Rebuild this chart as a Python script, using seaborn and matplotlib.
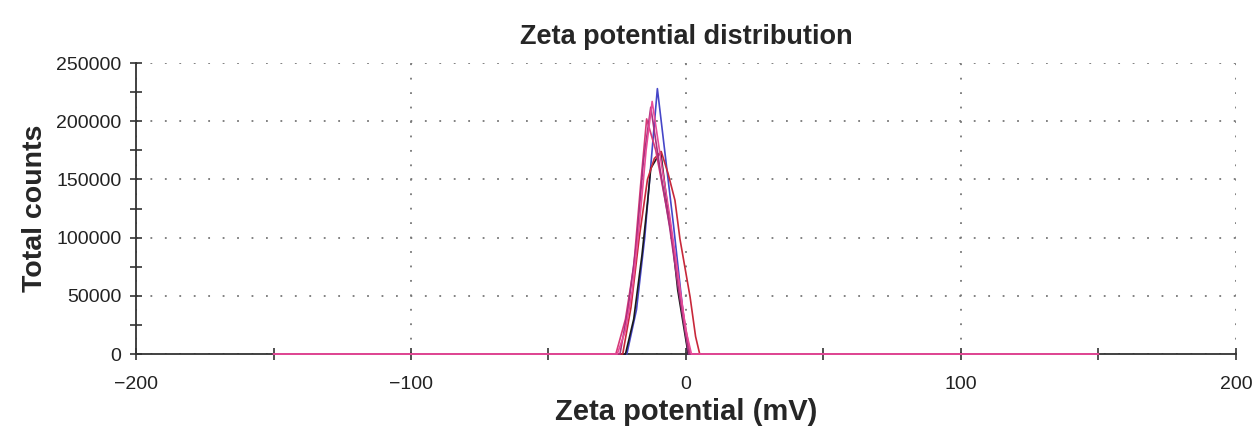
import matplotlib
matplotlib.use("Agg")
import matplotlib.pyplot as plt
import seaborn as sns
import pandas as pd
from matplotlib.ticker import MultipleLocator

sns.set_theme(style="white")
plt.rcParams['font.family'] = ['Liberation Sans', 'DejaVu Sans']

# ---- data ----
blue_x = [-150, -21.5, -18, -15, -12.5, -10.4, -7.5, -4.5, -1.5, 0.8, 150]
blue_y = [0, 0, 38000, 100000, 170000, 228000, 170000, 110000, 45000, 0, 0]

black_x = [-150, -22, -19, -16, -14, -12.8, -9.2, -7, -5, -3, 0.8, 150]
black_y = [0, 0, 30000, 85000, 130000, 159500, 173800, 132000, 99000, 55000, 0, 0]

red_x = [-150, -23, -20, -17, -14, -11.5, -9, -6.5, -4, -2.2, 1.5, 3.5, 5, 150]
red_y = [0, 0, 40000, 100000, 150000, 168000, 174000, 155000, 132000, 99000, 49000, 15000, 0, 0]

deeppink_x = [-150, -25.5, -22, -19, -16.5, -14.3, -11, -7, -4, -1, 1.5, 150]
deeppink_y = [0, 0, 30000, 75000, 145000, 202000, 175000, 125000, 85000, 35000, 0, 0]

magenta_x = [-150, -24, -21, -18, -15.5, -12.8, -9.5, -6, -3, 1, 150]
magenta_y = [0, 0, 40000, 95000, 165000, 212000, 160000, 110000, 60000, 0, 0]

pink_x = [-150, -25, -22, -19.5, -17, -14.5, -12.3, -9, -6, -3, 0, 2, 150]
pink_y = [0, 0, 20000, 55000, 110000, 175000, 217000, 165000, 120000, 70000, 20000, 0, 0]

series = [
    ("blue", blue_x, blue_y, "#4646c8"),
    ("black", black_x, black_y, "#1a1a1a"),
    ("red", red_x, red_y, "#c8283a"),
    ("deeppink", deeppink_x, deeppink_y, "#d63a78"),
    ("magenta", magenta_x, magenta_y, "#a8307e"),
    ("pink", pink_x, pink_y, "#e84c98"),
]

title = "Zeta potential distribution"
xlabel = "Zeta potential (mV)"
ylabel = "Total counts"

rows = []
for name, xs, ys, _ in series:
    for xv, yv in zip(xs, ys):
        rows.append({"run": name, "x": xv, "y": yv})
df = pd.DataFrame(rows)
palette = {name: c for name, _, _, c in series}

fig = plt.figure(figsize=(12.56, 4.34), dpi=100)
ax = fig.add_axes([0.1083, 0.1843, 0.8757, 0.6705])

sns.lineplot(data=df, x="x", y="y", hue="run", hue_order=[s[0] for s in series],
             palette=palette, legend=False, linewidth=1.2, sort=False,
             estimator=None, ax=ax)
for ln in ax.lines:
    ln.set_clip_on(False)
    ln.set_zorder(4)

ax.set_xlim(-200, 200)
ax.set_ylim(0, 250000)
ax.xaxis.set_major_locator(MultipleLocator(100))
ax.xaxis.set_minor_locator(MultipleLocator(50))
ax.yaxis.set_major_locator(MultipleLocator(50000))
ax.yaxis.set_minor_locator(MultipleLocator(25000))

for s in ["top", "right"]:
    ax.spines[s].set_visible(False)
for s in ["left", "bottom"]:
    ax.spines[s].set_color("#333333")
    ax.spines[s].set_linewidth(1.3)

ax.tick_params(axis="both", which="both", direction="inout", color="#333333",
               width=1.2, labelsize=14, labelcolor="#222222", bottom=True, left=True)
ax.tick_params(axis="both", which="major", length=9)
ax.tick_params(axis="both", which="minor", length=8)
ax.tick_params(axis="x", pad=11)
ax.tick_params(axis="y", pad=6)

ax.grid(True, which="major", color="#777777", linestyle=(0, (1, 7)), linewidth=1.3)
ax.set_axisbelow(True)

ax.set_title(title, fontsize=19.5, fontweight="bold", pad=14)
ax.set_xlabel(xlabel, fontsize=21, fontweight="bold", labelpad=4)
ax.set_ylabel(ylabel, fontsize=20.5, fontweight="bold", labelpad=6)

fig.savefig("out.png", dpi=100, facecolor="white")
